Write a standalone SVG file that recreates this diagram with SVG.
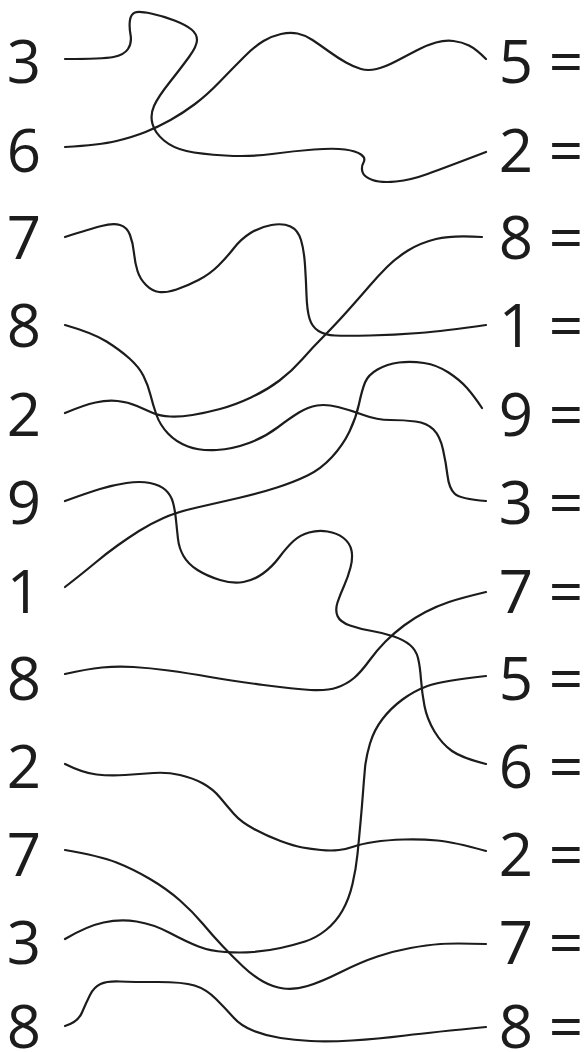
<svg xmlns="http://www.w3.org/2000/svg" width="588" height="1052" viewBox="0 0 588 1052">
<style>
.d{font-family:"Open Sans","Noto Sans","Liberation Sans",sans-serif;font-size:60px;fill:#1c1c1c;text-anchor:middle}
.c{fill:none;stroke:#1c1c1c;stroke-width:2.2;stroke-linecap:round;stroke-linejoin:round}
</style>
<rect width="588" height="1052" fill="#ffffff"/>
<g id="left-labels">
<g id="L1"><text class="d" x="24" y="83">3</text></g>
<g id="L2"><text class="d" x="24" y="172">6</text></g>
<g id="L3"><text class="d" x="24" y="259">7</text></g>
<g id="L4"><text class="d" x="24" y="347">8</text></g>
<g id="L5"><text class="d" x="24" y="436">2</text></g>
<g id="L6"><text class="d" x="24" y="524">9</text></g>
<g id="L7"><text class="d" x="24" y="613">1</text></g>
<g id="L8"><text class="d" x="24" y="700">8</text></g>
<g id="L9"><text class="d" x="24" y="788">2</text></g>
<g id="L10"><text class="d" x="24" y="876">7</text></g>
<g id="L11"><text class="d" x="24" y="964">3</text></g>
<g id="L12"><text class="d" x="24" y="1048">8</text></g>
</g>
<g id="right-labels">
<g id="R1"><text class="d" x="516" y="83">5</text><text class="d" x="566" y="83">=</text></g>
<g id="R2"><text class="d" x="516" y="172">2</text><text class="d" x="566" y="172">=</text></g>
<g id="R3"><text class="d" x="516" y="259">8</text><text class="d" x="566" y="259">=</text></g>
<g id="R4"><text class="d" x="516" y="347">1</text><text class="d" x="566" y="347">=</text></g>
<g id="R5"><text class="d" x="516" y="436">9</text><text class="d" x="566" y="436">=</text></g>
<g id="R6"><text class="d" x="516" y="524">3</text><text class="d" x="566" y="524">=</text></g>
<g id="R7"><text class="d" x="516" y="613">7</text><text class="d" x="566" y="613">=</text></g>
<g id="R8"><text class="d" x="516" y="700">5</text><text class="d" x="566" y="700">=</text></g>
<g id="R9"><text class="d" x="516" y="788">6</text><text class="d" x="566" y="788">=</text></g>
<g id="R10"><text class="d" x="516" y="876">2</text><text class="d" x="566" y="876">=</text></g>
<g id="R11"><text class="d" x="516" y="964">7</text><text class="d" x="566" y="964">=</text></g>
<g id="R12"><text class="d" x="516" y="1048">8</text><text class="d" x="566" y="1048">=</text></g>
</g>
<g id="connectors">
<path class="c" d="M 65 59 Q 103 59 113.5 57 Q 124 55 128 49 Q 132 43 130.5 34.5 Q 129 26 130 20 Q 131 14 135 12.5 Q 139 11 151 13.5 Q 163 16 174.5 20.5 Q 186 25 191.5 29.5 Q 197 34 197 40 Q 197 46 189 57 Q 181 68 169.5 82.5 Q 158 97 154 106 Q 150 115 152.5 124 Q 155 133 164 140.5 Q 173 148 186.5 151 Q 200 154 225 155.5 Q 250 157 272 154 Q 294 151 314 149.5 Q 334 148 345 149.5 Q 356 151 361 154.5 Q 366 158 363.5 162.5 Q 361 167 362.5 172 Q 364 177 372.5 180 Q 381 183 396 181.5 Q 411 180 427.5 174 Q 444 168 486 152"/>
<path class="c" d="M 65 147 Q 100 145 116.5 141 Q 133 137 145.5 132 Q 158 127 170.5 120 Q 183 113 195 104 Q 207 95 220 81.5 Q 233 68 244 57 Q 255 46 263.5 41 Q 272 36 281 34 Q 290 32 297.5 33.5 Q 305 35 312.5 40 Q 320 45 329 51.5 Q 338 58 346 62.5 Q 354 67 361 69 Q 368 71 376.5 69 Q 385 67 395.5 61.5 Q 406 56 416.5 50.5 Q 427 45 436 42.5 Q 445 40 453.5 41 Q 462 42 469 45.5 Q 476 49 486 59"/>
<path class="c" d="M 65 237 Q 90 229 101.5 226 Q 113 223 120 225 Q 127 227 130 235 Q 133 243 134 253 Q 135 263 137.5 271 Q 140 279 146 285 Q 152 291 159 292 Q 166 293 176.5 289.5 Q 187 286 198.5 280 Q 210 274 218.5 265.5 Q 227 257 234 248 Q 241 239 250.5 233 Q 260 227 271.5 225 Q 283 223 290.5 226.5 Q 298 230 301 240 Q 304 250 305 265 Q 306 280 306.5 295 Q 307 310 309.5 318.5 Q 312 327 318.5 331 Q 325 335 335 335.5 Q 345 336 369.5 335.5 Q 394 335 419 333 Q 444 331 486 325"/>
<path class="c" d="M 65 325 Q 93 333 106.5 341.5 Q 120 350 129.5 358.5 Q 139 367 143.5 376 Q 148 385 150.5 395 Q 153 405 156.5 415 Q 160 425 168 433.5 Q 176 442 188 446.5 Q 200 451 216.5 450 Q 233 449 249 443 Q 265 437 277.5 427.5 Q 290 418 299 412.5 Q 308 407 317 405.5 Q 326 404 338 407 Q 350 410 363.5 415 Q 377 420 390.5 420 Q 404 420 415.5 421.5 Q 427 423 433.5 429.5 Q 440 436 443 449.5 Q 446 463 447.5 475.5 Q 449 488 454.5 493.5 Q 460 499 486 501"/>
<path class="c" d="M 65 413 Q 84 405 95.5 402.5 Q 107 400 117.5 401 Q 128 402 137 406 Q 146 410 153 413 Q 160 416 170 416.5 Q 180 417 192.5 415 Q 205 413 220 409 Q 235 405 251 397.5 Q 267 390 279.5 380.5 Q 292 371 302.5 359 Q 313 347 324 336 Q 335 325 347.5 311 Q 360 297 369 286.5 Q 378 276 387 267 Q 396 258 408 250.5 Q 420 243 436 239 Q 452 235 482 237"/>
<path class="c" d="M 65 501 Q 87 493 100 489 Q 113 485 126.5 483 Q 140 481 150 483 Q 160 485 165.5 490 Q 171 495 173 502.5 Q 175 510 176 520 Q 177 530 178 539 Q 179 548 183.5 556 Q 188 564 197.5 570 Q 207 576 220 580 Q 233 584 243.5 582 Q 254 580 263 573.5 Q 272 567 279.5 557 Q 287 547 293.5 541 Q 300 535 309 532.5 Q 318 530 327.5 531.5 Q 337 533 343.5 538 Q 350 543 351.5 550.5 Q 353 558 350.5 567.5 Q 348 577 344 586 Q 340 595 337.5 602.5 Q 335 610 337.5 616 Q 340 622 350 625.5 Q 360 629 372 631 Q 384 633 394 636.5 Q 404 640 410 645 Q 416 650 418 658 Q 420 666 421 679.5 Q 422 693 424.5 706 Q 427 719 434.5 731.5 Q 442 744 452 751 Q 462 758 486 764"/>
<path class="c" d="M 65 587 Q 83 573 95 563 Q 107 553 117.5 545.5 Q 128 538 139 531 Q 150 524 163.5 518 Q 177 512 197 507.5 Q 217 503 238.5 498 Q 260 493 277 487.5 Q 294 482 307.5 475.5 Q 321 469 332 457 Q 343 445 349.5 431.5 Q 356 418 359 404 Q 362 390 365 382.5 Q 368 375 377.5 369.5 Q 387 364 399 362.5 Q 411 361 424 363 Q 437 365 448.5 372.5 Q 460 380 467 388 Q 474 396 482 408"/>
<path class="c" d="M 65 674 Q 87 669 102 667.5 Q 117 666 133.5 667 Q 150 668 168.5 670.5 Q 187 673 210 677 Q 233 681 263.5 685 Q 294 689 310.5 690 Q 327 691 337 687.5 Q 347 684 354 678 Q 361 672 369 661 Q 377 650 385.5 641.5 Q 394 633 404 625.5 Q 414 618 425.5 612 Q 437 606 449 602 Q 461 598 486 592"/>
<path class="c" d="M 65 764 Q 83 773 96.5 774.5 Q 110 776 125 775 Q 140 774 153.5 773 Q 167 772 180 775 Q 193 778 203 783.5 Q 213 789 220 797.5 Q 227 806 234 814 Q 241 822 254 829 Q 267 836 280.5 841 Q 294 846 302.5 847.5 Q 311 849 321 850 Q 331 851 339 850 Q 347 849 354 846.5 Q 361 844 374 842 Q 387 840 404 839.5 Q 421 839 437.5 840.5 Q 454 842 486 851"/>
<path class="c" d="M 65 850 Q 100 856 116.5 862.5 Q 133 869 150 879 Q 167 889 180 900.5 Q 193 912 203 924 Q 213 936 223 946.5 Q 233 957 243 966.5 Q 253 976 263 981.5 Q 273 987 283.5 988.5 Q 294 990 307.5 986 Q 321 982 341 972 Q 361 962 377.5 956.5 Q 394 951 410.5 948 Q 427 945 440.5 944 Q 454 943 486 944"/>
<path class="c" d="M 65 939 Q 87 926 103.5 922.5 Q 120 919 136.5 921.5 Q 153 924 170 933 Q 187 942 198.5 946.5 Q 210 951 225 952 Q 240 953 253.5 952 Q 267 951 280.5 948 Q 294 945 305 941.5 Q 316 938 326 930 Q 336 922 342.5 910.5 Q 349 899 352.5 884 Q 356 869 357.5 854 Q 359 839 360.5 822.5 Q 362 806 363 792.5 Q 364 779 365 768 Q 366 757 370 743.5 Q 374 730 382.5 719 Q 391 708 402.5 699.5 Q 414 691 427.5 686 Q 441 681 486 676"/>
<path class="c" d="M 65 1026 Q 78 1022 82 1012.5 Q 86 1003 90 995 Q 94 987 100.5 984 Q 107 981 120 981.5 Q 133 982 158 982 Q 183 982 194.5 985.5 Q 206 989 216 999 Q 226 1009 233.5 1017.5 Q 241 1026 254 1031 Q 267 1036 280.5 1038 Q 294 1040 310.5 1041 Q 327 1042 352 1040.5 Q 377 1039 405.5 1035.5 Q 434 1032 486 1027"/>
</g>
</svg>
